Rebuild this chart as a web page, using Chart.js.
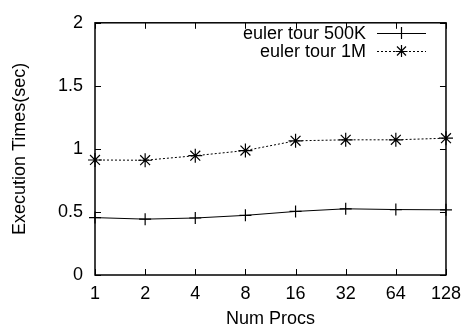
<!DOCTYPE html>
<html><head><meta charset="utf-8">
<script src="https://cdn.jsdelivr.net/npm/chart.js@4/dist/chart.umd.min.js"></script>
<style>html,body{margin:0;padding:0;background:#fff}#w{width:469px;height:331px}</style>
</head><body><div id="w"><canvas id="c" width="469" height="331"></canvas></div>
<script>
const categories = ["1","2","4","8","16","32","64","128"];
const tour500K = [0.455, 0.443, 0.452, 0.473, 0.504, 0.525, 0.519, 0.517];
const tour1M = [0.912, 0.910, 0.946, 0.987, 1.064, 1.072, 1.072, 1.085];
const seriesNames = ["euler tour 500K", "euler tour 1M"];
const yTicks = [0, 0.5, 1, 1.5, 2];
const FONT = "'Liberation Sans', Arial, sans-serif";

const frame = {
  id: 'frame',
  afterDatasetsDraw(chart) {
    const {ctx, chartArea: a, scales: {x, y}} = chart;
    ctx.save();
    ctx.strokeStyle = '#000';
    ctx.lineWidth = 1;
    const L = 6;
    ctx.beginPath();
    categories.forEach((c, i) => {
      const px = Math.round(x.getPixelForValue(i)) + 0.5;
      ctx.moveTo(px, a.bottom); ctx.lineTo(px, a.bottom - L);
      ctx.moveTo(px, a.top); ctx.lineTo(px, a.top + L);
    });
    yTicks.forEach(v => {
      const py = Math.round(y.getPixelForValue(v)) + 0.5;
      ctx.moveTo(a.left, py); ctx.lineTo(a.left + L, py);
      ctx.moveTo(a.right, py); ctx.lineTo(a.right - L, py);
    });
    ctx.stroke();
    ctx.lineWidth = 1.5;
    ctx.strokeRect(a.left, a.top, a.right - a.left, a.bottom - a.top);
    // legend
    ctx.font = '18px ' + FONT;
    ctx.fillStyle = '#000';
    ctx.textAlign = 'right';
    ctx.textBaseline = 'middle';
    const rows = [33, 51];
    chart.data.datasets.forEach((ds, i) => {
      const yy = rows[i];
      ctx.fillText(seriesNames[i], 366, yy + 1);
      ctx.lineWidth = 1;
      ctx.setLineDash(ds.borderDash || []);
      ctx.beginPath(); ctx.moveTo(377, yy + 0.5); ctx.lineTo(426, yy + 0.5); ctx.stroke();
      ctx.setLineDash([]);
      const cx = 401.5, r = 6;
      ctx.lineWidth = 1.2;
      ctx.beginPath();
      ctx.moveTo(cx - r, yy + 0.5); ctx.lineTo(cx + r, yy + 0.5);
      ctx.moveTo(cx, yy - r); ctx.lineTo(cx, yy + r);
      if (ds.pointStyle === 'star') {
        const d = r * 0.75;
        ctx.moveTo(cx - d, yy - d); ctx.lineTo(cx + d, yy + d);
        ctx.moveTo(cx - d, yy + d); ctx.lineTo(cx + d, yy - d);
      }
      ctx.stroke();
    });
    ctx.restore();
  }
};

new Chart(document.getElementById('c'), {
  type: 'line',
  data: {
    labels: categories,
    datasets: [
      {label: seriesNames[0], data: tour500K, borderColor: '#000', backgroundColor: '#000',
       borderWidth: 1, pointStyle: 'cross', pointRadius: 6, pointBorderWidth: 1.2, tension: 0},
      {label: seriesNames[1], data: tour1M, borderColor: '#000', backgroundColor: '#000',
       borderWidth: 1, borderDash: [2, 2], pointStyle: 'star', pointRadius: 7, pointBorderWidth: 1.2, tension: 0}
    ]
  },
  options: {
    responsive: false, animation: false,
    layout: {padding: {left: 0, right: 21, top: 17, bottom: 0}},
    plugins: {legend: {display: false}, tooltip: {enabled: false}},
    scales: {
      x: {
        offset: false,
        grid: {display: false, drawTicks: false},
        border: {display: false},
        ticks: {color: '#000', font: {family: FONT, size: 18}, padding: 8, maxRotation: 0, autoSkip: false},
        title: {display: true, text: 'Num Procs', color: '#000', font: {family: FONT, size: 18}, padding: {top: 0, bottom: 1}},
        afterFit(s) { s.height = 56; }
      },
      y: {
        min: 0, max: 2,
        afterBuildTicks(s) { s.ticks = yTicks.map(v => ({value: v})); },
        grid: {display: false, drawTicks: false},
        border: {display: false},
        ticks: {color: '#000', font: {family: FONT, size: 18}, padding: 12,
                callback: v => String(v)},
        title: {display: true, text: 'Execution Times(sec)', color: '#000', font: {family: FONT, size: 18}, padding: {top: 9, bottom: 0}},
        afterFit(s) { s.width = 95; }
      }
    }
  },
  plugins: [frame]
});
</script></body></html>
